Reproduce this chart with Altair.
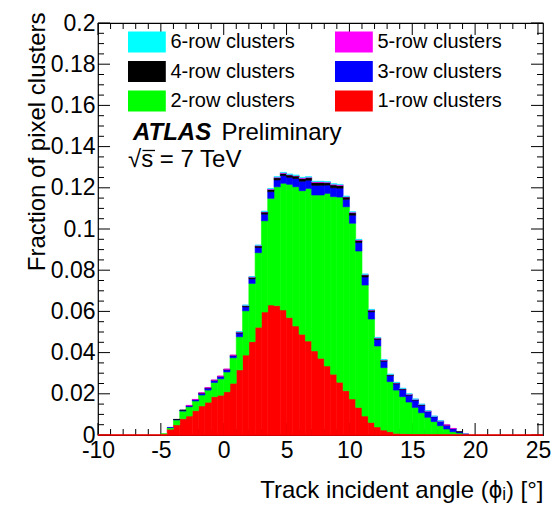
import altair as alt
import pandas as pd

# ---------------- data ----------------
bin_lo = [-5.0, -4.5, -4.0, -3.5, -3.0, -2.5, -2.0, -1.5, -1.0, -0.5,
          0.0, 0.5, 1.0, 1.5, 2.0, 2.5, 3.0, 3.5, 4.0, 4.5,
          5.0, 5.5, 6.0, 6.5, 7.0, 7.5, 8.0, 8.5, 9.0, 9.5,
          10.0, 10.5, 11.0, 11.5, 12.0, 12.5, 13.0, 13.5, 14.0, 14.5,
          15.0, 15.5, 16.0, 16.5, 17.0, 17.5, 18.0, 18.5, 19.0]
BIN_W = 0.5

row1 = [0.0004, 0.0028, 0.0049, 0.0079, 0.0092, 0.0118, 0.0141, 0.0159, 0.0186, 0.0193,
        0.0210, 0.0251, 0.0316, 0.0388, 0.0453, 0.0523, 0.0597, 0.0631, 0.0628, 0.0607,
        0.0570, 0.0529, 0.0489, 0.0456, 0.0408, 0.0372, 0.0335, 0.0295, 0.0256, 0.0215,
        0.0175, 0.0134, 0.0092, 0.0061, 0.0039, 0.0024, 0.0016, 0.0008, 0.0006, 0.0005,
        0.0004, 0.0004, 0.0003, 0.0003, 0.0003, 0.0002, 0.0002, 0.0002, 0.0002]
row2 = [0.0002, 0.0008, 0.0024, 0.0037, 0.0045, 0.0047, 0.0053, 0.0059, 0.0069, 0.0080,
        0.0096, 0.0124, 0.0161, 0.0215, 0.0283, 0.0362, 0.0443, 0.0518, 0.0577, 0.0615,
        0.0647, 0.0676, 0.0697, 0.0741, 0.0757, 0.0793, 0.0838, 0.0862, 0.0899, 0.0893,
        0.0853, 0.0759, 0.0636, 0.0502, 0.0393, 0.0303, 0.0243, 0.0210, 0.0180, 0.0155,
        0.0130, 0.0104, 0.0083, 0.0062, 0.0042, 0.0027, 0.0014, 0.0008, 0.0002]
row3 = [0.0, 0.0001, 0.0002, 0.0004, 0.0005, 0.0006, 0.0008, 0.0009, 0.0009, 0.0010,
        0.0010, 0.0009, 0.0017, 0.0019, 0.0022, 0.0025, 0.0032, 0.0032, 0.0033, 0.0037,
        0.0034, 0.0040, 0.0046, 0.0040, 0.0047, 0.0047, 0.0040, 0.0043, 0.0043, 0.0036,
        0.0039, 0.0041, 0.0039, 0.0035, 0.0032, 0.0031, 0.0029, 0.0030, 0.0034, 0.0033,
        0.0035, 0.0036, 0.0027, 0.0023, 0.0021, 0.0018, 0.0014, 0.0005, 0.0001]
row4 = [0.0, 0.0, 0.0001, 0.0001, 0.0001, 0.0001, 0.0002, 0.0002, 0.0002, 0.0002,
        0.0003, 0.0003, 0.0005, 0.0006, 0.0008, 0.0008, 0.0010, 0.0011, 0.0011, 0.0011,
        0.0011, 0.0012, 0.0013, 0.0012, 0.0014, 0.0014, 0.0012, 0.0014, 0.0013, 0.0011,
        0.0012, 0.0011, 0.0010, 0.0008, 0.0006, 0.0005, 0.0004, 0.0004, 0.0004, 0.0004,
        0.0003, 0.0003, 0.0002, 0.0002, 0.0001, 0.0001, 0.0001, 0.0001, 0.0]
row5 = [0.0, 0.0, 0.0, 0.0, 0.0001, 0.0001, 0.0001, 0.0001, 0.0001, 0.0001,
        0.0001, 0.0001, 0.0002, 0.0002, 0.0002, 0.0003, 0.0003, 0.0003, 0.0003, 0.0003,
        0.0003, 0.0003, 0.0004, 0.0003, 0.0004, 0.0004, 0.0003, 0.0004, 0.0004, 0.0003,
        0.0003, 0.0003, 0.0003, 0.0002, 0.0002, 0.0002, 0.0002, 0.0002, 0.0002, 0.0002,
        0.0002, 0.0002, 0.0002, 0.0001, 0.0001, 0.0001, 0.0001, 0.0, 0.0]
row6 = [0.0, 0.0, 0.0, 0.0, 0.0, 0.0, 0.0, 0.0, 0.0, 0.0,
        0.0, 0.0, 0.0001, 0.0001, 0.0001, 0.0001, 0.0002, 0.0002, 0.0002, 0.0002,
        0.0002, 0.0002, 0.0002, 0.0002, 0.0002, 0.0002, 0.0002, 0.0002, 0.0002, 0.0002,
        0.0002, 0.0002, 0.0002, 0.0002, 0.0002, 0.0002, 0.0002, 0.0002, 0.0001, 0.0001,
        0.0001, 0.0001, 0.0001, 0.0001, 0.0001, 0.0, 0.0, 0.0, 0.0]

series_names = ["1-row clusters", "2-row clusters", "3-row clusters",
                "4-row clusters", "5-row clusters", "6-row clusters"]
series_colors = ["#ff0000", "#00ff00", "#0000ff", "#000000", "#ff00ff", "#00ffff"]
series_values = [row1, row2, row3, row4, row5, row6]

x_major = [-10, -5, 0, 5, 10, 15, 20, 25]
x_minor = [v for v in range(-10, 26) if v % 5 != 0]
y_major = [0, 0.02, 0.04, 0.06, 0.08, 0.1, 0.12, 0.14, 0.16, 0.18, 0.2]
y_minor = [round(0.005 * k, 3) for k in range(0, 41) if k % 4 != 0]

X_TITLE = "Track incident angle (ϕᵢ) [°]"
Y_TITLE = "Fraction of pixel clusters"

# ---------------- build table ----------------
rows = []
for k, (name, vals) in enumerate(zip(series_names, series_values)):
    for lo, v in zip(bin_lo, vals):
        if v > 0:
            rows.append({"lo": lo, "hi": lo + BIN_W, "value": v, "series": name, "order": k})
df = pd.DataFrame(rows)

# legend is filled column by column: 6,4,2 | 5,3,1
legend_order = ["6-row clusters", "4-row clusters", "2-row clusters",
                "5-row clusters", "3-row clusters", "1-row clusters"]
legend_colors = [series_colors[series_names.index(n)] for n in legend_order]

FONT = "Liberation Sans"
W, H = 445, 412
xscale = alt.Scale(domain=[-10, 25.4], nice=False, zero=False)
yscale = alt.Scale(domain=[0, 0.2], nice=False, zero=True)

x_axis = alt.Axis(
    values=x_major, labelExpr="'' + datum.value", labelFontSize=23, labelFont=FONT,
    labelColor="black", labelPadding=4, ticks=False, tickSize=0, domain=False, grid=False,
    labelOverlap=False, labelFlush=False,
    title=X_TITLE, titleFontSize=24, titleFont=FONT,
    titleFontWeight="normal", titleColor="black", titleX=W, titleY=62,
    titleAlign="right", titleBaseline="alphabetic", titleAnchor="end")
y_axis = alt.Axis(
    values=y_major, labelExpr="'' + datum.value", labelFontSize=23, labelFont=FONT,
    labelColor="black", labelPadding=3, ticks=False, tickSize=0, domain=False, grid=False,
    labelOverlap=False, labelFlush=False,
    title=Y_TITLE, titleFontSize=24, titleFont=FONT,
    titleFontWeight="normal", titleColor="black", titleX=-54, titleY=-11,
    titleAngle=270, titleAlign="right", titleBaseline="alphabetic", titleAnchor="end")

bars = alt.Chart(df).transform_stack(
    stack="value", groupby=["lo"], as_=["y0", "y1"],
    sort=[alt.SortField("order", order="ascending")],
).mark_rect(strokeWidth=0.6).encode(
    x=alt.X("lo:Q", scale=xscale, axis=x_axis, title=X_TITLE),
    x2="hi:Q",
    y=alt.Y("y0:Q", scale=yscale, axis=y_axis, title=Y_TITLE),
    y2="y1:Q",
    color=alt.Color("series:N", scale=alt.Scale(domain=legend_order, range=legend_colors),
                    legend=alt.Legend(
                        orient="none", legendX=30, legendY=8.5, columns=2, title=None,
                        symbolType="M-1.8,-1H1.8V1H-1.8Z", symbolSize=441,
                        symbolStrokeWidth=0, symbolOffset=8.4, symbolOpacity=1,
                        labelFontSize=20, labelFont=FONT, labelColor="black",
                        labelOffset=13, columnPadding=39, rowPadding=8.5, padding=0)),
    stroke=alt.Stroke("series:N", scale=alt.Scale(domain=legend_order, range=legend_colors),
                      legend=None),
)


def xticks(vals, y0, y1):
    return alt.Chart(pd.DataFrame({"v": vals})).mark_rule(color="black", strokeWidth=1).encode(
        x=alt.X("v:Q", scale=xscale, axis=x_axis, title=X_TITLE),
        y=alt.value(y0), y2=alt.value(y1))


def yticks(vals, x0, x1):
    return alt.Chart(pd.DataFrame({"v": vals})).mark_rule(color="black", strokeWidth=1).encode(
        y=alt.Y("v:Q", scale=yscale, axis=y_axis, title=Y_TITLE),
        x=alt.value(x0), x2=alt.value(x1))


tick_layers = [
    xticks(x_major, H, H - 12), xticks(x_minor, H, H - 6),
    xticks(x_major, 0, 12), xticks(x_minor, 0, 6),
    yticks(y_major, 0, 12), yticks(y_minor, 0, 6),
    yticks(y_major, W, W - 12), yticks(y_minor, W, W - 6),
]

baseline = alt.Chart(pd.DataFrame({"y": [0]})).mark_rule(color="#ff0000", strokeWidth=1.6).encode(
    y=alt.Y("y:Q", scale=yscale, axis=y_axis, title=Y_TITLE),
    x=alt.value(0), x2=alt.value(W))

atlas = alt.Chart(pd.DataFrame({"t": ["ATLAS"]})).mark_text(
    font=FONT, fontSize=24, fontWeight="bold", fontStyle="italic", align="left",
    baseline="alphabetic", color="black").encode(text="t:N", x=alt.value(35), y=alt.value(117))
prelim = alt.Chart(pd.DataFrame({"t": ["Preliminary"]})).mark_text(
    font=FONT, fontSize=24, align="left", baseline="alphabetic", color="black").encode(
    text="t:N", x=alt.value(123.5), y=alt.value(117))
energy = alt.Chart(pd.DataFrame({"t": ["√s = 7 TeV"]})).mark_text(
    font=FONT, fontSize=24, align="left", baseline="alphabetic", color="black").encode(
    text="t:N", x=alt.value(30), y=alt.value(143.5))
# bar of the square-root sign over "s"
sqrt_bar = alt.Chart(pd.DataFrame({"k": [1]})).mark_rule(color="black", strokeWidth=1.3).encode(
    x=alt.value(44.5), x2=alt.value(57), y=alt.value(127.5), detail="k:N")

chart = alt.layer(*tick_layers, bars, baseline, atlas, prelim, energy, sqrt_bar).properties(
    width=W, height=H,
    padding={"left": 98, "top": 23, "right": 13, "bottom": 70},
    autosize=alt.AutoSizeParams(type="none"),
    background="white",
).configure_view(stroke="black", strokeWidth=1.2)

chart.save("out.html", embed_options={"renderer": "svg", "actions": False})
